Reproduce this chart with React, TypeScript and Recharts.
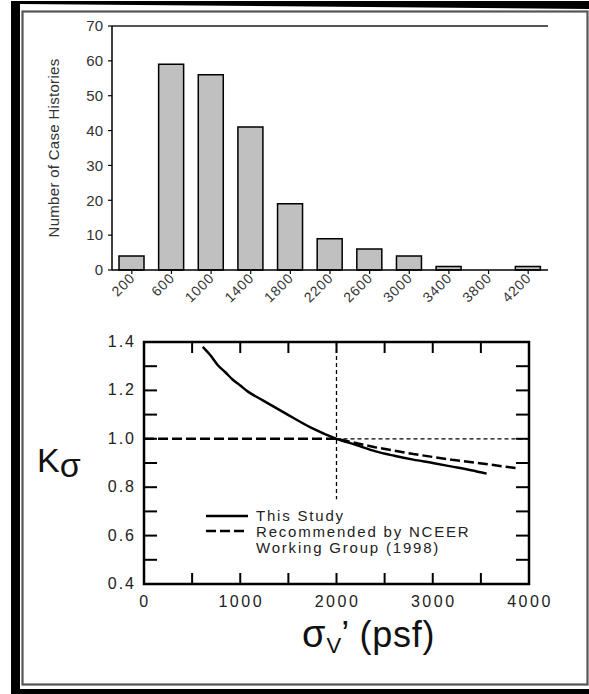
import React from 'react';
import {
  BarChart,
  Bar,
  XAxis,
  YAxis,
  LineChart,
  Line,
  ReferenceLine,
  ReferenceArea,
  Legend,
} from 'recharts';

// ---------- Data: histogram of case histories ----------
const binLabels = ['200', '600', '1000', '1400', '1800', '2200', '2600', '3000', '3400', '3800', '4200'];
const caseCounts = [4, 59, 56, 41, 19, 9, 6, 4, 1, 0, 1];
const countTicks = [0, 10, 20, 30, 40, 50, 60, 70];

// ---------- Data: K-sigma curves ----------
const studyStress = [610, 690, 765, 845, 920, 1000, 1080, 1230, 1470, 1740, 2000, 2200, 2407, 2600, 2798, 3000, 3188, 3400, 3560];
const studyK = [1.38, 1.345, 1.305, 1.275, 1.245, 1.22, 1.195, 1.16, 1.105, 1.045, 1.0, 0.975, 0.948, 0.93, 0.914, 0.9, 0.886, 0.87, 0.856];
const nceerStress = [0, 500, 1000, 1500, 2000, 2400, 2800, 3200, 3600, 3880];
const nceerK = [1, 1, 1, 1, 1, 0.965, 0.937, 0.913, 0.893, 0.878];
const stressTicks = [0, 500, 1000, 1500, 2000, 2500, 3000, 3500, 4000];
const kTicks = [0.4, 0.5, 0.6, 0.7, 0.8, 0.9, 1.0, 1.1, 1.2, 1.3, 1.4];
const legendRows = ['This Study', 'Recommended by NCEER', 'Working Group (1998)'];

const FONT = '"Liberation Sans", Arial, Helvetica, sans-serif';

// layout of lower chart (chart coordinates)
const K_MARGIN = { top: 42, right: 60, left: 84, bottom: 50 };
const K_W = 589;
const K_H = 394;
const K_YAXIS_W = 60;
const K_XAXIS_H = 60;
const K_PLOT_RIGHT = K_W - K_MARGIN.right;
const K_PLOT_TOP = K_MARGIN.top;

const BarXTick = (props: any) => {
  const { x, y, payload } = props;
  const ax = x + 4;
  const ay = y + 9;
  return (
    <g>
      <line x1={x} x2={x} y1={y} y2={y + 4} stroke="#000" strokeWidth={1.2} />
      <text
        x={ax}
        y={ay}
        transform={`rotate(-45 ${ax} ${ay})`}
        textAnchor="end"
        fontSize={14}
        letterSpacing={0.8}
        fill="#333"
        fontFamily={FONT}
      >
        {payload.value}
      </text>
    </g>
  );
};

const BarYLabel = (props: any) => {
  const vb = props.viewBox || {};
  const cx = vb.x + 7;
  const cy = vb.y + vb.height / 2;
  return (
    <text
      x={cx}
      y={cy}
      transform={`rotate(-90 ${cx} ${cy})`}
      textAnchor="middle"
      fontSize={15}
      letterSpacing={0.3}
      fill="#333"
      fontFamily={FONT}
    >
      Number of Case Histories
    </text>
  );
};

const KXTick = (props: any) => {
  const { x, y, payload } = props;
  const v = payload.value;
  return (
    <g>
      <line x1={x} x2={x} y1={y} y2={y - 11} stroke="#000" strokeWidth={2} />
      <line x1={x} x2={x} y1={K_PLOT_TOP} y2={K_PLOT_TOP + 11} stroke="#000" strokeWidth={2} />
      {v % 1000 === 0 && (
        <text x={x + 1} y={y + 23} textAnchor="middle" fontSize={16} letterSpacing={2.5} fill="#222" fontFamily={FONT}>
          {v}
        </text>
      )}
    </g>
  );
};

const KYTick = (props: any) => {
  const { x, y, payload } = props;
  const v = payload.value;
  const even = Math.round(v * 10) % 2 === 0;
  return (
    <g>
      <line x1={x} x2={x + 13} y1={y} y2={y} stroke="#000" strokeWidth={2} />
      <line x1={K_PLOT_RIGHT - 13} x2={K_PLOT_RIGHT} y1={y} y2={y} stroke="#000" strokeWidth={2} />
      {even && (
        <text x={x - 8} y={y + 5} textAnchor="end" fontSize={16} letterSpacing={2} fill="#222" fontFamily={FONT}>
          {v.toFixed(1)}
        </text>
      )}
    </g>
  );
};

const KTitle = () => (
  <text x={37} y={172} fontSize={34} fill="#111" fontFamily={FONT}>
    K
    <tspan fontSize={34} dy={5} dx={0}>
      σ
    </tspan>
  </text>
);

const StressTitle = () => (
  <text x={302} y={347} fontSize={38} fill="#111" fontFamily={FONT}>
    σ
    <tspan fontSize={22} dy={6} dx={1}>
      V
    </tspan>
    <tspan fontSize={36} dy={-6} letterSpacing={0.8}>
      ’ (psf)
    </tspan>
  </text>
);

const KLegend = () => (
  <div style={{ fontFamily: FONT, fontSize: 15, color: '#222', letterSpacing: 1.8, lineHeight: '16px' }}>
    <div style={{ display: 'flex', alignItems: 'center', height: 16 }}>
      <svg width={42} height={16} style={{ display: 'block' }}>
        <line x1={0} x2={42} y1={8} y2={8} stroke="#000" strokeWidth={2.5} />
      </svg>
      <span style={{ marginLeft: 8 }}>{legendRows[0]}</span>
    </div>
    <div style={{ display: 'flex', alignItems: 'center', height: 16 }}>
      <svg width={42} height={16} style={{ display: 'block' }}>
        <line x1={0} x2={42} y1={7} y2={7} stroke="#000" strokeWidth={2.5} strokeDasharray="10 4" />
      </svg>
      <span style={{ marginLeft: 8 }}>{legendRows[1]}</span>
    </div>
    <div style={{ display: 'flex', alignItems: 'center', height: 16 }}>
      <span style={{ marginLeft: 50 }}>{legendRows[2]}</span>
    </div>
  </div>
);

export default function App() {
  const barData = binLabels.map((b, i) => ({ bin: b, count: caseCounts[i] }));
  const studyData = studyStress.map((s, i) => ({ s, k: studyK[i] }));
  const nceerData = nceerStress.map((s, i) => ({ s, k: nceerK[i] }));

  return (
    <div style={{ position: 'absolute', left: 0, top: 0, width: 589, height: 694, background: '#fff', overflow: 'hidden' }}>
      <svg width={589} height={694} style={{ position: 'absolute', left: 0, top: 0 }}>
        <rect x={11} y={1} width={600} height={720} fill="#000" />
        <polygon points="20,4 589,9 589,689 20,689" fill="#fff" />
        <rect x={22.5} y={11.5} width={565} height={673} fill="none" stroke="#555" strokeWidth={2.2} />
      </svg>

      <div style={{ position: 'absolute', left: 0, top: 0 }}>
        <BarChart
          width={589}
          height={330}
          data={barData}
          margin={{ top: 26, right: 41, left: 52, bottom: 0 }}
          barSize={25}
        >
          <XAxis
            dataKey="bin"
            height={60}
            interval={0}
            tick={<BarXTick />}
            tickLine={false}
            tickSize={0}
            tickMargin={0}
            axisLine={{ stroke: '#000', strokeWidth: 1.5 }}
          />
          <YAxis
            width={60}
            domain={[0, 70]}
            ticks={countTicks}
            interval={0}
            tick={{ fill: '#333', fontSize: 15, fontFamily: FONT }}
            tickLine={{ stroke: '#000', strokeWidth: 1.2 }}
            tickSize={4}
            tickMargin={5}
            axisLine={{ stroke: '#000', strokeWidth: 1.5 }}
            label={<BarYLabel />}
          />
          <YAxis
            yAxisId="frame"
            orientation="right"
            width={0}
            domain={[0, 70]}
            tick={false}
            tickLine={false}
            axisLine={{ stroke: '#555', strokeWidth: 2 }}
          />
          <ReferenceLine y={70} stroke="#555" strokeWidth={2} />
          <Bar dataKey="count" fill="#c0c0c0" stroke="#000" strokeWidth={1.5} isAnimationActive={false} />
        </BarChart>
      </div>

      <div style={{ position: 'absolute', left: 0, top: 300 }}>
        <LineChart width={K_W} height={K_H} margin={K_MARGIN}>
          <XAxis
            type="number"
            dataKey="s"
            domain={[0, 4000]}
            ticks={stressTicks}
            interval={0}
            height={K_XAXIS_H}
            allowDataOverflow
            tick={<KXTick />}
            tickLine={false}
            tickSize={0}
            tickMargin={0}
            axisLine={false}
            label={<StressTitle />}
          />
          <YAxis
            type="number"
            domain={[0.4, 1.4]}
            ticks={kTicks}
            interval={0}
            width={K_YAXIS_W}
            allowDataOverflow
            tick={<KYTick />}
            tickLine={false}
            tickSize={0}
            tickMargin={0}
            axisLine={false}
            label={<KTitle />}
          />
          <ReferenceArea x1={0} x2={4000} y1={0.4} y2={1.4} fill="none" stroke="#000" strokeWidth={2.5} />
          <ReferenceLine
            segment={[{ x: 2000, y: 1.4 }, { x: 2000, y: 0.75 }]}
            stroke="#000"
            strokeWidth={1.3}
            strokeDasharray="4 3"
          />
          <ReferenceLine
            segment={[{ x: 2000, y: 1 }, { x: 4000, y: 1 }]}
            stroke="#000"
            strokeWidth={1.3}
            strokeDasharray="4 3"
          />
          <Line
            data={nceerData}
            dataKey="k"
            name="Recommended by NCEER Working Group (1998)"
            type="linear"
            stroke="#000"
            strokeWidth={2.5}
            strokeDasharray="10 4"
            dot={false}
            activeDot={false}
            isAnimationActive={false}
          />
          <Line
            data={studyData}
            dataKey="k"
            name="This Study"
            type="monotone"
            stroke="#000"
            strokeWidth={2.5}
            dot={false}
            activeDot={false}
            isAnimationActive={false}
          />
          <Legend
            layout="vertical"
            align="center"
            verticalAlign="middle"
            content={<KLegend />}
            wrapperStyle={{ left: 206, top: 208, width: 320, height: 48 }}
          />
        </LineChart>
      </div>
    </div>
  );
}
